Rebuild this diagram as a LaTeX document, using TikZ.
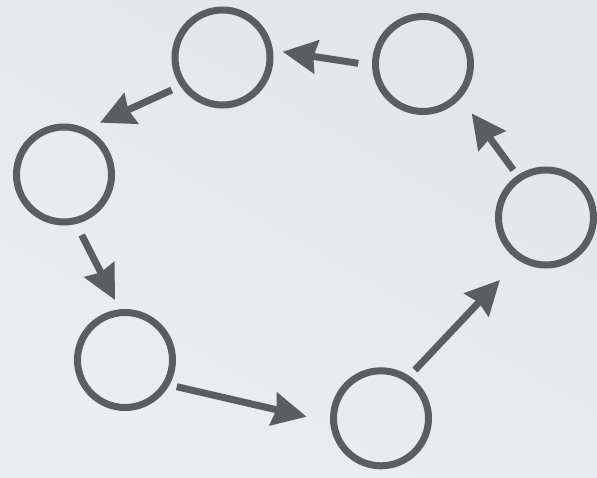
\documentclass[tikz,border=0pt]{standalone}
\usetikzlibrary{arrows.meta,calc}
\definecolor{bgtop}{HTML}{E3E6E9}
\definecolor{bgbot}{HTML}{ECEDEF}
\definecolor{ink}{HTML}{5A5E5E}
\tikzset{
  ring/.style={circle, draw=ink, line width=7pt, minimum size=95pt, inner sep=0pt},
  flow/.style={draw=ink, line width=7pt, -{Stealth[length=34pt, width=33pt, inset=3pt]}}
}
\begin{document}
\begin{tikzpicture}[x=1pt, y=-1pt]
  % backdrop
  \shade[shading=axis, top color=bgtop, bottom color=bgbot, shading angle=-30]
    (0,0) rectangle (597,478);
  \useasboundingbox (0,0) rectangle (597,478);

  % the six stations of the cycle
  \node[ring] (tl) at (222.5,57.5) {};
  \node[ring] (tr) at (423,64) {};
  \node[ring] (l)  at (64,174.5) {};
  \node[ring] (r)  at (546,217.5) {};
  \node[ring] (bl) at (125,360) {};
  \node[ring] (b)  at (381,418.3) {};

  % arrows between neighbouring stations (y axis points down, so angles run clockwise)
  \draw[flow] ($(tr)+(-179.4:64.7)$) -- ($(tl)+(-5.5:60.5)$);
  \draw[flow] ($(tl)+(-212.6:60.3)$) -- ($(l)+(-55.2:63.1)$);
  \draw[flow] ($(l)+(-286.3:63)$)    -- ($(bl)+(-99.5:60.8)$);
  \draw[flow] ($(bl)+(27.3:58.2)$)   -- ($(b)+(-178.8:74.3)$);
  \draw[flow] ($(b)+(-54.9:59)$)     -- ($(r)+(-233.6:77.6)$);
  \draw[flow] ($(r)+(-124.5:57.7)$)  -- ($(tr)+(45.4:69.3)$);
\end{tikzpicture}
\end{document}
